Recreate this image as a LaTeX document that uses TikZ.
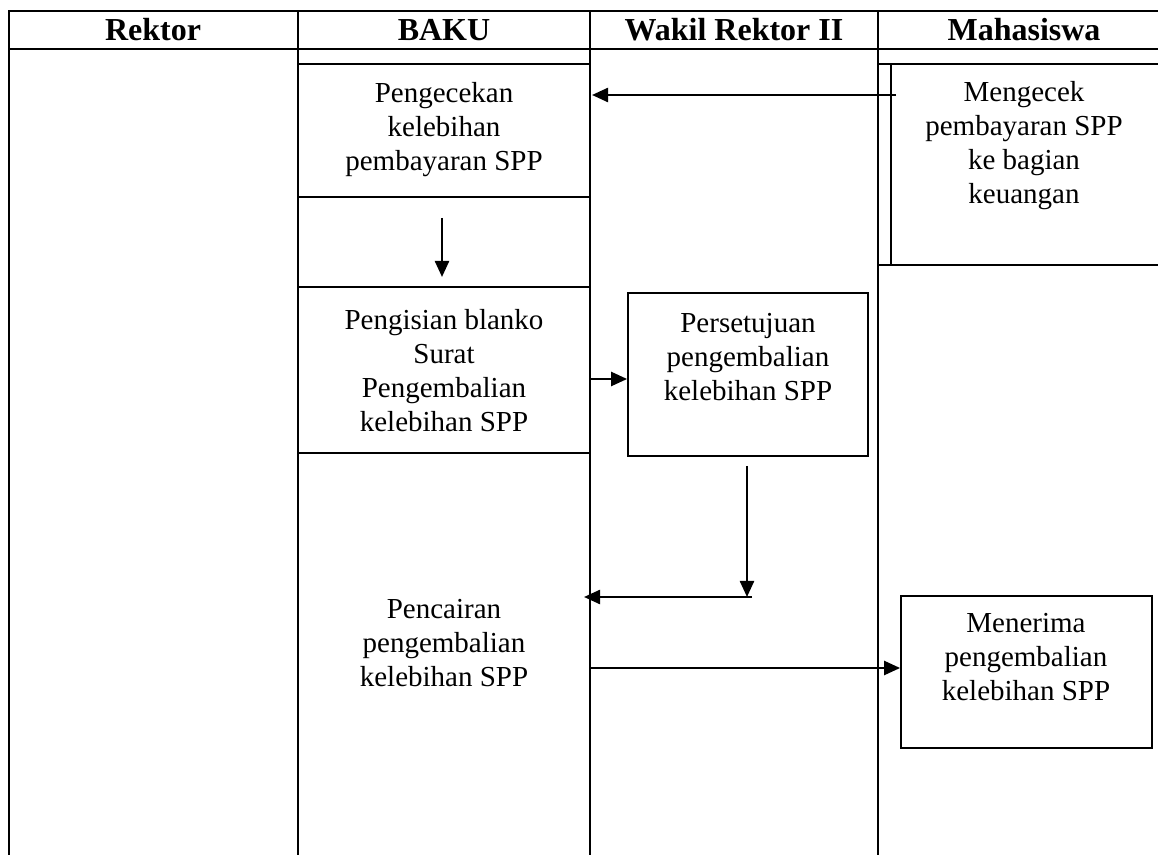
\documentclass[tikz,border=0pt]{standalone}
\usepackage{fontspec}
\setmainfont{Liberation Serif}
\usetikzlibrary{arrows.meta}
\begin{document}
\begin{tikzpicture}[x=0.5pt,y=-0.5pt,
  grid/.style={line width=1pt},
  txt/.style={align=center,font=\fontsize{14.5}{17}\selectfont,inner sep=0pt},
  hdr/.style={font=\fontsize{16}{18}\selectfont\bfseries,inner sep=0pt},
  box/.style={draw,line width=0.9pt,inner sep=0pt},
  arr/.style={line width=1.2pt,-{Triangle[length=8pt,width=7pt]}}]
\useasboundingbox (0,0) rectangle (1158,855);
% table frame
\draw[grid] (1158,11) -- (9,11) -- (9,855);
\draw[grid] (9,49) -- (1158,49);
\draw[grid] (298,11) -- (298,855);
\draw[grid] (590,11) -- (590,855);
\draw[grid] (878,11) -- (878,855);
% BAKU rows
\draw[grid] (298,64) -- (590,64);
\draw[grid] (298,197) -- (590,197);
\draw[grid] (298,287) -- (590,287);
\draw[grid] (298,453) -- (590,453);
% Mahasiswa cell
\draw[grid] (878,64) -- (1158,64);
\draw[grid] (878,265) -- (1158,265);
\draw[grid] (891,64) -- (891,265);
% headers
\node[hdr] (hR) at (153,30) {Rektor};
\node[hdr] (hB) at (444,30) {BAKU};
\node[hdr] (hW) at (734,30) {Wakil Rektor II};
\node[hdr] (hM) at (1024,30) {Mahasiswa};
% texts
\node[txt] (cek) at (444,130) {Pengecekan\\kelebihan\\pembayaran SPP};
\node[txt] (mcek) at (1024,146) {Mengecek\\pembayaran SPP\\ke bagian\\keuangan};
\node[txt] (isi) at (444,371) {Pengisian blanko\\Surat\\Pengembalian\\kelebihan SPP};
\node[box,minimum width=120pt,minimum height=81.5pt] (pers) at (748,374.5) {};
\node[txt] (perst) at (748,357) {Persetujuan\\pengembalian\\kelebihan SPP};
\node[txt] (cair) at (444,643) {Pencairan\\pengembalian\\kelebihan SPP};
\node[box,minimum width=125.5pt,minimum height=76pt] (terima) at (1026.5,672) {};
\node[txt] (terimat) at (1026,657) {Menerima\\pengembalian\\kelebihan SPP};
% connector coordinates
\coordinate (a1s) at (896,95);
\coordinate (a1e) at (592,95);
\coordinate (a2s) at (442,218);
\coordinate (a2e) at (442,277);
\coordinate (a3s) at (590,379);
\coordinate (a4s) at (747,466);
\coordinate (a4e) at (747,597);
\coordinate (a5s) at (752,597);
\coordinate (a5e) at (584,597);
\coordinate (a6s) at (590,668);
% connectors
\draw[arr] (a1s) -- (a1e);
\draw[arr] (a2s) -- (a2e);
\draw[arr] (a3s) -- (a3s -| pers.west);
\draw[arr] (a4s) -- (a4e);
\draw[arr] (a5s) -- (a5e);
\draw[arr] (a6s) -- (a6s -| terima.west);
\end{tikzpicture}
\end{document}
